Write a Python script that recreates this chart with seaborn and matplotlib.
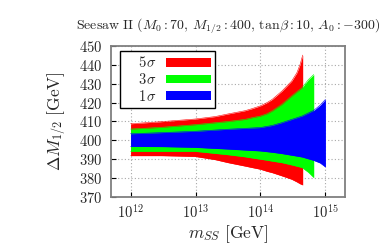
import numpy as np
import pandas as pd
import matplotlib
matplotlib.use("Agg")
import matplotlib.pyplot as plt
import seaborn as sns
from matplotlib.ticker import FixedLocator, FixedFormatter, NullLocator
from matplotlib.patches import Patch

# band edges, x given as log10(m_SS / GeV)
red_logm = [12.0, 12.47, 12.99, 13.3, 13.5, 13.76, 13.87, 14.0, 14.1, 14.18, 14.33, 14.48, 14.56, 14.61, 14.65]
red_upper = [408.8, 409.9, 411.3, 412.6, 414.0, 415.7, 416.8, 418.3, 420.0, 421.7, 426.1, 431.4, 435.8, 440.2, 445.2]
red_lower = [391.9, 391.9, 391.5, 389.8, 388.2, 386.4, 385.6, 384.7, 383.6, 382.9, 381.2, 379.4, 378.0, 377.0, 376.4]

green_logm = [12.0, 12.47, 12.99, 13.5, 13.76, 13.87, 14.0, 14.1, 14.18, 14.33, 14.48, 14.64, 14.74, 14.82]
green_upper = [406.0, 406.9, 408.3, 410.0, 411.1, 412.0, 412.9, 414.1, 415.6, 419.1, 423.5, 427.9, 432.3, 434.9]
green_lower = [394.2, 394.2, 394.2, 392.4, 391.3, 390.7, 390.0, 389.5, 389.0, 388.2, 387.0, 385.6, 383.0, 380.3]

blue_logm = [12.0, 12.47, 12.99, 13.5, 14.0, 14.18, 14.33, 14.64, 14.82, 14.92, 15.0]
blue_upper = [403.5, 404.1, 404.8, 405.9, 406.8, 407.9, 409.4, 412.9, 415.9, 418.7, 421.7]
blue_lower = [396.8, 396.7, 396.3, 395.4, 394.4, 393.7, 393.0, 391.2, 389.4, 388.0, 385.9]

y_ticks = [370, 380, 390, 400, 410, 420, 430, 440, 450]
x_ticks = [1e12, 1e13, 1e14, 1e15]
x_tick_labels = [r"$10^{12}$", r"$10^{13}$", r"$10^{14}$", r"$10^{15}$"]

sns.set_theme(style="white")
plt.rcParams["font.family"] = ["DejaVu Serif"]
plt.rcParams["mathtext.fontset"] = "cm"

bands = [
    ("5\\sigma", "#ff0000", red_logm, red_upper, red_lower),
    ("3\\sigma", "#00ff00", green_logm, green_upper, green_lower),
    ("1\\sigma", "#0000ff", blue_logm, blue_upper, blue_lower),
]

fig = plt.figure(figsize=(3.82, 2.47), dpi=100)
ax = fig.add_axes([0.2906, 0.2024, 0.6125, 0.6114])

handles = []
for label, color, logm, up, lo in bands:
    df = pd.DataFrame({"m": 10 ** np.array(logm), "up": up, "lo": lo})
    ax.fill_between(df["m"], df["lo"], df["up"], color=color, lw=0, zorder=2)
    sns.lineplot(data=df, x="m", y="up", color=color, lw=0.4, ax=ax, zorder=2)
    sns.lineplot(data=df, x="m", y="lo", color=color, lw=0.4, ax=ax, zorder=2)
    handles.append(Patch(facecolor=color, edgecolor="none", label=rf"$\quad\,{label}$"))

ax.set_xscale("log")
ax.set_xlim(5e11, 2e15)
ax.set_ylim(370, 450)
ax.xaxis.set_major_locator(FixedLocator(x_ticks))
ax.xaxis.set_major_formatter(FixedFormatter(x_tick_labels))
ax.xaxis.set_minor_locator(NullLocator())
ax.set_yticks(y_ticks)
ax.set_yticklabels([f"${v}$" for v in y_ticks])

ax.grid(True, which="major", color="#a8a8a8", linestyle=(0, (1, 2)), lw=0.8, zorder=1)
ax.set_axisbelow(True)
for s in ax.spines.values():
    s.set_color("#7f7f7f")
    s.set_linewidth(1.3)
ax.tick_params(axis="both", direction="in", length=3.5, width=0.8, color="black",
               labelsize=10.5, bottom=True, left=True, top=False, right=False)
ax.tick_params(axis="x", pad=4)
ax.tick_params(axis="y", pad=6.5)

ax.set_xlabel(r"$m_{SS}\ \mathrm{[GeV]}$", fontsize=12.5, labelpad=2)
ax.set_ylabel(r"$\Delta M_{1/2}\ \mathrm{[GeV]}$", fontsize=12.5, labelpad=8)
ax.set_title(r"$\mathrm{Seesaw\ II}\ (M_0 : 70,\, M_{1/2} : 400,\, \mathrm{tan}\beta : 10,\, A_0 : -300)$",
             fontsize=10, pad=12)

leg = ax.legend(handles=handles, loc="upper left", bbox_to_anchor=(0.038, 0.967),
                markerfirst=False, fancybox=False, framealpha=1, edgecolor="black",
                fontsize=10.5, handlelength=3.1, handleheight=0.55, handletextpad=0.62,
                labelspacing=0.12, borderpad=0.3, borderaxespad=0)
leg.get_frame().set_linewidth(1.0)
leg.set_zorder(5)

fig.savefig("out.png", dpi=100)
